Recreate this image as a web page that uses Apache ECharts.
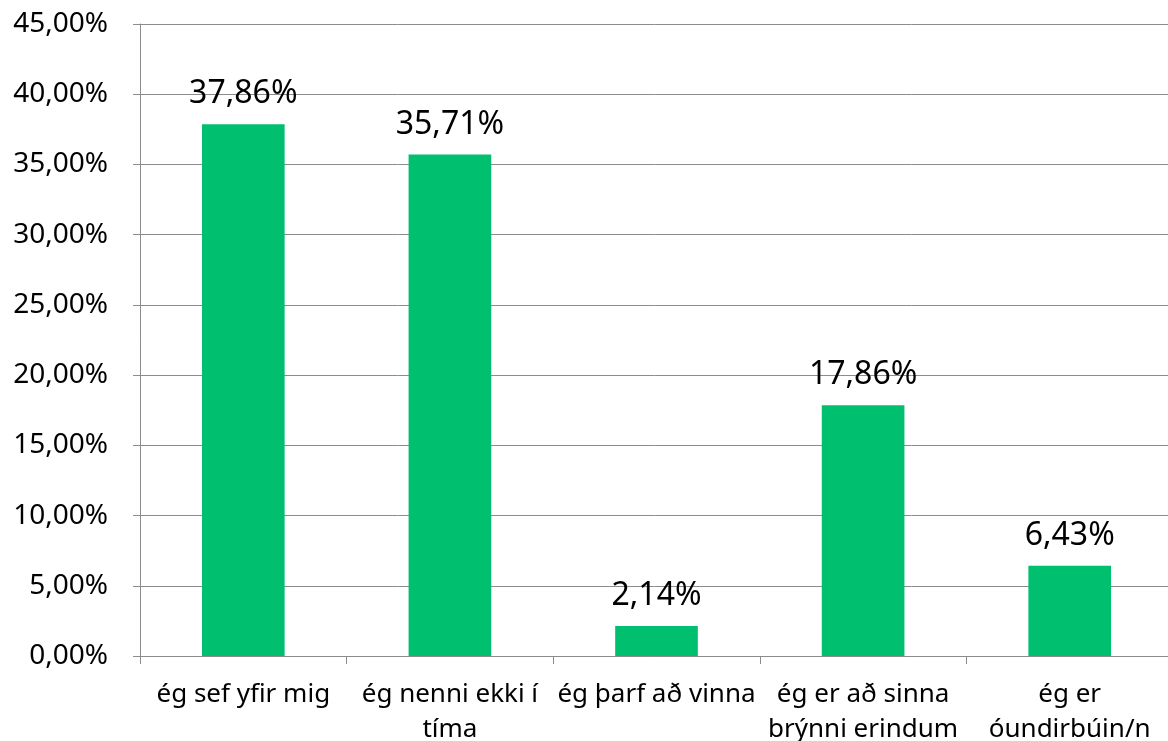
<!DOCTYPE html>
<html lang="is">
<head>
<meta charset="utf-8">
<title>Chart</title>
<script src="https://cdn.jsdelivr.net/npm/echarts@6/dist/echarts.min.js"></script>
<style>
  html, body { margin: 0; padding: 0; background: #fff; }
  #chart { width: 1168px; height: 741px; }
</style>
</head>
<body>
<div id="chart"></div>
<script>
  // flokkar og gildi (%)
  var categories = ['ég sef yfir mig', 'ég nenni ekki í\ntíma', 'ég þarf að vinna', 'ég er að sinna\nbrýnni erindum', 'ég er\nóundirbúin/n'];
  var values = [37.86, 35.71, 2.14, 17.86, 6.43];
  var yMin = 0, yMax = 45, yStep = 5;

  function pct(v) {
    return v.toFixed(2).replace('.', ',') + '%';
  }

  var myChart = echarts.init(document.getElementById('chart'));
  var font = '"Noto Sans", sans-serif';
  var option = {
    animation: false,
    // plot runs a bit past the right edge, like the original
    grid: { left: 140, right: -5, top: 24, bottom: 85, outerBoundsMode: 'none' },
    xAxis: {
      type: 'category',
      data: categories,
      axisLine: { lineStyle: { color: '#8c8c8c', width: 1 } },
      axisTick: { show: true, length: 8, lineStyle: { color: '#8c8c8c' } },
      axisLabel: {
        color: '#000', fontFamily: font, fontSize: 26, lineHeight: 35,
        margin: 21, interval: 0
      }
    },
    yAxis: {
      type: 'value',
      min: yMin, max: yMax, interval: yStep,
      axisLine: { show: true, lineStyle: { color: '#8c8c8c', width: 1 } },
      axisTick: { show: true, length: 7, lineStyle: { color: '#8c8c8c' } },
      splitLine: { show: true, lineStyle: { color: '#8c8c8c', width: 1 } },
      axisLabel: {
        color: '#000', fontFamily: font, fontSize: 28, margin: 32,
        formatter: function (v) { return pct(v); }
      }
    },
    series: [{
      type: 'bar',
      data: values,
      barWidth: '40%',
      itemStyle: { color: '#00bf6f' },
      label: {
        show: true, position: 'top', distance: 14,
        color: '#000', fontFamily: font, fontSize: 32,
        formatter: function (p) { return pct(p.value); }
      }
    }]
  };
  myChart.setOption(option);
</script>
</body>
</html>
